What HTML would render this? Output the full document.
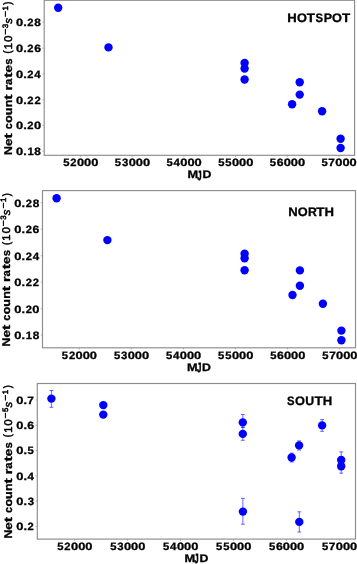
<!DOCTYPE html><html><head><meta charset="utf-8"><style>html,body{margin:0;padding:0;background:#fff;}svg{display:block;}text{font-family:"Liberation Sans", sans-serif;fill:#000;text-rendering:geometricPrecision;}.b{font-weight:bold;stroke:#000;stroke-width:0.30px;}.r{stroke:#000;stroke-width:0.52px;}</style></head><body>
<svg width="357" height="564" viewBox="0 0 357 564">
<defs><filter id="bl" x="0" y="0" width="357" height="564" filterUnits="userSpaceOnUse"><feGaussianBlur stdDeviation="0.50"/></filter></defs>
<rect width="357" height="564" fill="#fff"/>
<g filter="url(#bl)">
<rect width="357" height="564" fill="#fff"/>
<line x1="80.57" y1="155.30" x2="80.57" y2="157.10" stroke="#8c8c8c" stroke-width="0.6"/>
<text text-anchor="middle"><tspan class="b" x="66.33" y="166.44" font-size="10.61" textLength="6.26" lengthAdjust="spacingAndGlyphs">5</tspan><tspan class="b" x="73.43" y="166.44" font-size="10.61" textLength="6.24" lengthAdjust="spacingAndGlyphs">2</tspan><tspan class="b" x="80.58" y="166.44" font-size="10.61" textLength="7.16" lengthAdjust="spacingAndGlyphs">0</tspan><tspan class="b" x="87.71" y="166.44" font-size="10.61" textLength="7.16" lengthAdjust="spacingAndGlyphs">0</tspan><tspan class="b" x="94.85" y="166.44" font-size="10.61" textLength="7.16" lengthAdjust="spacingAndGlyphs">0</tspan></text>
<line x1="132.24" y1="155.30" x2="132.24" y2="157.10" stroke="#8c8c8c" stroke-width="0.6"/>
<text text-anchor="middle"><tspan class="b" x="117.99" y="166.44" font-size="10.61" textLength="6.26" lengthAdjust="spacingAndGlyphs">5</tspan><tspan class="b" x="125.11" y="166.44" font-size="10.61" textLength="6.27" lengthAdjust="spacingAndGlyphs">3</tspan><tspan class="b" x="132.25" y="166.44" font-size="10.61" textLength="7.16" lengthAdjust="spacingAndGlyphs">0</tspan><tspan class="b" x="139.38" y="166.44" font-size="10.61" textLength="7.16" lengthAdjust="spacingAndGlyphs">0</tspan><tspan class="b" x="146.51" y="166.44" font-size="10.61" textLength="7.16" lengthAdjust="spacingAndGlyphs">0</tspan></text>
<line x1="183.90" y1="155.30" x2="183.90" y2="157.10" stroke="#8c8c8c" stroke-width="0.6"/>
<text text-anchor="middle"><tspan class="b" x="169.66" y="166.44" font-size="10.61" textLength="6.26" lengthAdjust="spacingAndGlyphs">5</tspan><tspan class="b" x="176.71" y="166.44" font-size="10.61" textLength="6.41" lengthAdjust="spacingAndGlyphs">4</tspan><tspan class="b" x="183.91" y="166.44" font-size="10.61" textLength="7.16" lengthAdjust="spacingAndGlyphs">0</tspan><tspan class="b" x="191.04" y="166.44" font-size="10.61" textLength="7.16" lengthAdjust="spacingAndGlyphs">0</tspan><tspan class="b" x="198.17" y="166.44" font-size="10.61" textLength="7.16" lengthAdjust="spacingAndGlyphs">0</tspan></text>
<line x1="235.57" y1="155.30" x2="235.57" y2="157.10" stroke="#8c8c8c" stroke-width="0.6"/>
<text text-anchor="middle"><tspan class="b" x="221.32" y="166.44" font-size="10.61" textLength="6.26" lengthAdjust="spacingAndGlyphs">5</tspan><tspan class="b" x="228.45" y="166.44" font-size="10.61" textLength="6.26" lengthAdjust="spacingAndGlyphs">5</tspan><tspan class="b" x="235.57" y="166.44" font-size="10.61" textLength="7.16" lengthAdjust="spacingAndGlyphs">0</tspan><tspan class="b" x="242.71" y="166.44" font-size="10.61" textLength="7.16" lengthAdjust="spacingAndGlyphs">0</tspan><tspan class="b" x="249.84" y="166.44" font-size="10.61" textLength="7.16" lengthAdjust="spacingAndGlyphs">0</tspan></text>
<line x1="287.23" y1="155.30" x2="287.23" y2="157.10" stroke="#8c8c8c" stroke-width="0.6"/>
<text text-anchor="middle"><tspan class="b" x="272.99" y="166.44" font-size="10.61" textLength="6.26" lengthAdjust="spacingAndGlyphs">5</tspan><tspan class="b" x="280.14" y="166.44" font-size="10.61" textLength="6.81" lengthAdjust="spacingAndGlyphs">6</tspan><tspan class="b" x="287.24" y="166.44" font-size="10.61" textLength="7.16" lengthAdjust="spacingAndGlyphs">0</tspan><tspan class="b" x="294.37" y="166.44" font-size="10.61" textLength="7.16" lengthAdjust="spacingAndGlyphs">0</tspan><tspan class="b" x="301.50" y="166.44" font-size="10.61" textLength="7.16" lengthAdjust="spacingAndGlyphs">0</tspan></text>
<line x1="338.89" y1="155.30" x2="338.89" y2="157.10" stroke="#8c8c8c" stroke-width="0.6"/>
<text text-anchor="middle"><tspan class="b" x="324.65" y="166.44" font-size="10.61" textLength="6.26" lengthAdjust="spacingAndGlyphs">5</tspan><tspan class="b" x="331.70" y="166.44" font-size="10.61" textLength="6.64" lengthAdjust="spacingAndGlyphs">7</tspan><tspan class="b" x="338.90" y="166.44" font-size="10.61" textLength="7.16" lengthAdjust="spacingAndGlyphs">0</tspan><tspan class="b" x="346.04" y="166.44" font-size="10.61" textLength="7.16" lengthAdjust="spacingAndGlyphs">0</tspan><tspan class="b" x="353.17" y="166.44" font-size="10.61" textLength="7.16" lengthAdjust="spacingAndGlyphs">0</tspan></text>
<line x1="42.40" y1="22.30" x2="44.20" y2="22.30" stroke="#8c8c8c" stroke-width="0.6"/>
<text text-anchor="middle"><tspan class="b" x="19.50" y="26.22" font-size="10.61" textLength="7.16" lengthAdjust="spacingAndGlyphs">0</tspan><tspan class="b" x="25.02" y="26.22" font-size="10.61" textLength="3.53" lengthAdjust="spacingAndGlyphs">.</tspan><tspan class="b" x="30.51" y="26.22" font-size="10.61" textLength="6.24" lengthAdjust="spacingAndGlyphs">2</tspan><tspan class="b" x="37.64" y="26.22" font-size="10.61" textLength="6.58" lengthAdjust="spacingAndGlyphs">8</tspan></text>
<line x1="42.40" y1="48.10" x2="44.20" y2="48.10" stroke="#8c8c8c" stroke-width="0.6"/>
<text text-anchor="middle"><tspan class="b" x="19.50" y="52.02" font-size="10.61" textLength="7.16" lengthAdjust="spacingAndGlyphs">0</tspan><tspan class="b" x="25.02" y="52.02" font-size="10.61" textLength="3.53" lengthAdjust="spacingAndGlyphs">.</tspan><tspan class="b" x="30.51" y="52.02" font-size="10.61" textLength="6.24" lengthAdjust="spacingAndGlyphs">2</tspan><tspan class="b" x="37.69" y="52.02" font-size="10.61" textLength="6.81" lengthAdjust="spacingAndGlyphs">6</tspan></text>
<line x1="42.40" y1="73.90" x2="44.20" y2="73.90" stroke="#8c8c8c" stroke-width="0.6"/>
<text text-anchor="middle"><tspan class="b" x="19.50" y="77.82" font-size="10.61" textLength="7.16" lengthAdjust="spacingAndGlyphs">0</tspan><tspan class="b" x="25.02" y="77.82" font-size="10.61" textLength="3.53" lengthAdjust="spacingAndGlyphs">.</tspan><tspan class="b" x="30.51" y="77.82" font-size="10.61" textLength="6.24" lengthAdjust="spacingAndGlyphs">2</tspan><tspan class="b" x="37.59" y="77.82" font-size="10.61" textLength="6.41" lengthAdjust="spacingAndGlyphs">4</tspan></text>
<line x1="42.40" y1="99.70" x2="44.20" y2="99.70" stroke="#8c8c8c" stroke-width="0.6"/>
<text text-anchor="middle"><tspan class="b" x="19.50" y="103.62" font-size="10.61" textLength="7.16" lengthAdjust="spacingAndGlyphs">0</tspan><tspan class="b" x="25.02" y="103.62" font-size="10.61" textLength="3.53" lengthAdjust="spacingAndGlyphs">.</tspan><tspan class="b" x="30.51" y="103.62" font-size="10.61" textLength="6.24" lengthAdjust="spacingAndGlyphs">2</tspan><tspan class="b" x="37.64" y="103.62" font-size="10.61" textLength="6.24" lengthAdjust="spacingAndGlyphs">2</tspan></text>
<line x1="42.40" y1="125.40" x2="44.20" y2="125.40" stroke="#8c8c8c" stroke-width="0.6"/>
<text text-anchor="middle"><tspan class="b" x="19.50" y="129.32" font-size="10.61" textLength="7.16" lengthAdjust="spacingAndGlyphs">0</tspan><tspan class="b" x="25.02" y="129.32" font-size="10.61" textLength="3.53" lengthAdjust="spacingAndGlyphs">.</tspan><tspan class="b" x="30.51" y="129.32" font-size="10.61" textLength="6.24" lengthAdjust="spacingAndGlyphs">2</tspan><tspan class="b" x="37.66" y="129.32" font-size="10.61" textLength="7.16" lengthAdjust="spacingAndGlyphs">0</tspan></text>
<line x1="42.40" y1="151.10" x2="44.20" y2="151.10" stroke="#8c8c8c" stroke-width="0.6"/>
<text text-anchor="middle"><tspan class="b" x="19.50" y="155.02" font-size="10.61" textLength="7.16" lengthAdjust="spacingAndGlyphs">0</tspan><tspan class="b" x="25.02" y="155.02" font-size="10.61" textLength="3.53" lengthAdjust="spacingAndGlyphs">.</tspan><tspan class="b" x="30.55" y="155.02" font-size="10.61" textLength="6.27" lengthAdjust="spacingAndGlyphs">1</tspan><tspan class="b" x="37.64" y="155.02" font-size="10.61" textLength="6.58" lengthAdjust="spacingAndGlyphs">8</tspan></text>
<text text-anchor="middle"><tspan class="b" x="192.79" y="178.00" font-size="11.00" textLength="10.63" lengthAdjust="spacingAndGlyphs">M</tspan><tspan class="b" x="199.52" y="179.50" font-size="13.20" textLength="4.35" lengthAdjust="spacingAndGlyphs" style="stroke-width:0.60px">J</tspan><tspan class="b" x="206.98" y="178.00" font-size="11.00" textLength="8.89" lengthAdjust="spacingAndGlyphs">D</tspan></text>
<text text-anchor="middle"><tspan class="b" x="292.06" y="22.40" font-size="12.27" textLength="9.47" lengthAdjust="spacingAndGlyphs">H</tspan><tspan class="b" x="301.97" y="22.40" font-size="12.27" textLength="9.91" lengthAdjust="spacingAndGlyphs">O</tspan><tspan class="b" x="310.96" y="22.40" font-size="12.27" textLength="8.22" lengthAdjust="spacingAndGlyphs">T</tspan><tspan class="b" x="319.25" y="22.40" font-size="12.27" textLength="7.56" lengthAdjust="spacingAndGlyphs">S</tspan><tspan class="b" x="327.84" y="22.40" font-size="12.27" textLength="8.35" lengthAdjust="spacingAndGlyphs">P</tspan><tspan class="b" x="337.05" y="22.40" font-size="12.27" textLength="9.91" lengthAdjust="spacingAndGlyphs">O</tspan><tspan class="b" x="346.04" y="22.40" font-size="12.27" textLength="8.22" lengthAdjust="spacingAndGlyphs">T</tspan></text>
<g transform="translate(12.00,154.10) rotate(-90)"><text text-anchor="middle"><tspan class="b" x="3.60" y="0.00" font-size="11.19" textLength="8.83" lengthAdjust="spacingAndGlyphs">N</tspan><tspan class="b" x="11.86" y="0.00" font-size="11.19" textLength="7.44" lengthAdjust="spacingAndGlyphs">e</tspan><tspan class="b" x="18.23" y="0.00" font-size="11.19" textLength="5.25" lengthAdjust="spacingAndGlyphs">t</tspan><tspan x="22.83" y="0.00"> </tspan><tspan class="b" x="27.82" y="0.00" font-size="11.19" textLength="6.06" lengthAdjust="spacingAndGlyphs">c</tspan><tspan class="b" x="35.04" y="0.00" font-size="11.19" textLength="7.58" lengthAdjust="spacingAndGlyphs">o</tspan><tspan class="b" x="42.73" y="0.00" font-size="11.19" textLength="7.65" lengthAdjust="spacingAndGlyphs">u</tspan><tspan class="b" x="50.58" y="0.00" font-size="11.19" textLength="7.65" lengthAdjust="spacingAndGlyphs">n</tspan><tspan class="b" x="57.06" y="0.00" font-size="11.19" textLength="5.25" lengthAdjust="spacingAndGlyphs">t</tspan><tspan x="61.66" y="0.00"> </tspan><tspan class="b" x="66.36" y="0.00" font-size="11.19" textLength="5.64" lengthAdjust="spacingAndGlyphs">r</tspan><tspan class="b" x="72.31" y="0.00" font-size="11.19" textLength="6.35" lengthAdjust="spacingAndGlyphs">a</tspan><tspan class="b" x="79.00" y="0.00" font-size="11.19" textLength="5.25" lengthAdjust="spacingAndGlyphs">t</tspan><tspan class="b" x="85.35" y="0.00" font-size="11.19" textLength="7.44" lengthAdjust="spacingAndGlyphs">e</tspan><tspan class="b" x="92.47" y="0.00" font-size="11.19" textLength="6.32" lengthAdjust="spacingAndGlyphs">s</tspan><tspan x="97.60" y="0"> </tspan><tspan class="r" x="102.17" y="-0.74" font-size="10.70" textLength="3.15" lengthAdjust="spacingAndGlyphs">(</tspan><tspan class="r" x="108.11" y="-0.00" font-size="11.19" textLength="6.27" lengthAdjust="spacingAndGlyphs">1</tspan><tspan class="r" x="115.32" y="-0.00" font-size="11.19" textLength="6.56" lengthAdjust="spacingAndGlyphs">0</tspan><tspan class="r" x="122.30" y="-4.21" font-size="7.83" textLength="5.89" lengthAdjust="spacingAndGlyphs">−</tspan><tspan class="r" x="128.12" y="-4.21" font-size="7.83" textLength="4.41" lengthAdjust="spacingAndGlyphs">3</tspan><tspan class="r" x="133.30" y="-0.00" font-size="11.19" textLength="5.73" lengthAdjust="spacingAndGlyphs" font-style="italic">s</tspan><tspan class="r" x="139.99" y="-4.21" font-size="7.83" textLength="5.89" lengthAdjust="spacingAndGlyphs">−</tspan><tspan class="r" x="145.76" y="-4.21" font-size="7.83" textLength="4.39" lengthAdjust="spacingAndGlyphs">1</tspan><tspan class="r" x="151.03" y="-0.74" font-size="10.70" textLength="3.15" lengthAdjust="spacingAndGlyphs">)</tspan></text></g>
<circle cx="58.20" cy="7.80" r="4.20" fill="#0000ff"/>
<circle cx="108.50" cy="47.40" r="4.20" fill="#0000ff"/>
<circle cx="244.60" cy="62.90" r="4.20" fill="#0000ff"/>
<circle cx="244.60" cy="68.50" r="4.20" fill="#0000ff"/>
<circle cx="244.60" cy="79.50" r="4.20" fill="#0000ff"/>
<circle cx="292.10" cy="104.20" r="4.20" fill="#0000ff"/>
<circle cx="299.70" cy="82.30" r="4.20" fill="#0000ff"/>
<circle cx="299.70" cy="94.60" r="4.20" fill="#0000ff"/>
<circle cx="322.10" cy="111.20" r="4.20" fill="#0000ff"/>
<circle cx="340.60" cy="138.70" r="4.20" fill="#0000ff"/>
<circle cx="340.60" cy="148.00" r="4.20" fill="#0000ff"/>
<rect x="44.20" y="0.30" width="310.40" height="155.00" fill="none" stroke="#8c8c8c" stroke-width="1.15"/>
<line x1="79.18" y1="347.80" x2="79.18" y2="349.60" stroke="#8c8c8c" stroke-width="0.6"/>
<text text-anchor="middle"><tspan class="b" x="64.93" y="358.84" font-size="10.61" textLength="6.26" lengthAdjust="spacingAndGlyphs">5</tspan><tspan class="b" x="72.03" y="358.84" font-size="10.61" textLength="6.24" lengthAdjust="spacingAndGlyphs">2</tspan><tspan class="b" x="79.19" y="358.84" font-size="10.61" textLength="7.16" lengthAdjust="spacingAndGlyphs">0</tspan><tspan class="b" x="86.32" y="358.84" font-size="10.61" textLength="7.16" lengthAdjust="spacingAndGlyphs">0</tspan><tspan class="b" x="93.45" y="358.84" font-size="10.61" textLength="7.16" lengthAdjust="spacingAndGlyphs">0</tspan></text>
<line x1="131.27" y1="347.80" x2="131.27" y2="349.60" stroke="#8c8c8c" stroke-width="0.6"/>
<text text-anchor="middle"><tspan class="b" x="117.03" y="358.84" font-size="10.61" textLength="6.26" lengthAdjust="spacingAndGlyphs">5</tspan><tspan class="b" x="124.15" y="358.84" font-size="10.61" textLength="6.27" lengthAdjust="spacingAndGlyphs">3</tspan><tspan class="b" x="131.28" y="358.84" font-size="10.61" textLength="7.16" lengthAdjust="spacingAndGlyphs">0</tspan><tspan class="b" x="138.42" y="358.84" font-size="10.61" textLength="7.16" lengthAdjust="spacingAndGlyphs">0</tspan><tspan class="b" x="145.55" y="358.84" font-size="10.61" textLength="7.16" lengthAdjust="spacingAndGlyphs">0</tspan></text>
<line x1="183.37" y1="347.80" x2="183.37" y2="349.60" stroke="#8c8c8c" stroke-width="0.6"/>
<text text-anchor="middle"><tspan class="b" x="169.13" y="358.84" font-size="10.61" textLength="6.26" lengthAdjust="spacingAndGlyphs">5</tspan><tspan class="b" x="176.18" y="358.84" font-size="10.61" textLength="6.41" lengthAdjust="spacingAndGlyphs">4</tspan><tspan class="b" x="183.38" y="358.84" font-size="10.61" textLength="7.16" lengthAdjust="spacingAndGlyphs">0</tspan><tspan class="b" x="190.51" y="358.84" font-size="10.61" textLength="7.16" lengthAdjust="spacingAndGlyphs">0</tspan><tspan class="b" x="197.64" y="358.84" font-size="10.61" textLength="7.16" lengthAdjust="spacingAndGlyphs">0</tspan></text>
<line x1="235.47" y1="347.80" x2="235.47" y2="349.60" stroke="#8c8c8c" stroke-width="0.6"/>
<text text-anchor="middle"><tspan class="b" x="221.22" y="358.84" font-size="10.61" textLength="6.26" lengthAdjust="spacingAndGlyphs">5</tspan><tspan class="b" x="228.36" y="358.84" font-size="10.61" textLength="6.26" lengthAdjust="spacingAndGlyphs">5</tspan><tspan class="b" x="235.48" y="358.84" font-size="10.61" textLength="7.16" lengthAdjust="spacingAndGlyphs">0</tspan><tspan class="b" x="242.61" y="358.84" font-size="10.61" textLength="7.16" lengthAdjust="spacingAndGlyphs">0</tspan><tspan class="b" x="249.74" y="358.84" font-size="10.61" textLength="7.16" lengthAdjust="spacingAndGlyphs">0</tspan></text>
<line x1="287.57" y1="347.80" x2="287.57" y2="349.60" stroke="#8c8c8c" stroke-width="0.6"/>
<text text-anchor="middle"><tspan class="b" x="273.32" y="358.84" font-size="10.61" textLength="6.26" lengthAdjust="spacingAndGlyphs">5</tspan><tspan class="b" x="280.47" y="358.84" font-size="10.61" textLength="6.81" lengthAdjust="spacingAndGlyphs">6</tspan><tspan class="b" x="287.57" y="358.84" font-size="10.61" textLength="7.16" lengthAdjust="spacingAndGlyphs">0</tspan><tspan class="b" x="294.71" y="358.84" font-size="10.61" textLength="7.16" lengthAdjust="spacingAndGlyphs">0</tspan><tspan class="b" x="301.84" y="358.84" font-size="10.61" textLength="7.16" lengthAdjust="spacingAndGlyphs">0</tspan></text>
<line x1="339.66" y1="347.80" x2="339.66" y2="349.60" stroke="#8c8c8c" stroke-width="0.6"/>
<text text-anchor="middle"><tspan class="b" x="325.42" y="358.84" font-size="10.61" textLength="6.26" lengthAdjust="spacingAndGlyphs">5</tspan><tspan class="b" x="332.47" y="358.84" font-size="10.61" textLength="6.64" lengthAdjust="spacingAndGlyphs">7</tspan><tspan class="b" x="339.67" y="358.84" font-size="10.61" textLength="7.16" lengthAdjust="spacingAndGlyphs">0</tspan><tspan class="b" x="346.80" y="358.84" font-size="10.61" textLength="7.16" lengthAdjust="spacingAndGlyphs">0</tspan><tspan class="b" x="353.94" y="358.84" font-size="10.61" textLength="7.16" lengthAdjust="spacingAndGlyphs">0</tspan></text>
<line x1="40.70" y1="202.70" x2="42.50" y2="202.70" stroke="#8c8c8c" stroke-width="0.6"/>
<text text-anchor="middle"><tspan class="b" x="17.80" y="206.62" font-size="10.61" textLength="7.16" lengthAdjust="spacingAndGlyphs">0</tspan><tspan class="b" x="23.32" y="206.62" font-size="10.61" textLength="3.53" lengthAdjust="spacingAndGlyphs">.</tspan><tspan class="b" x="28.81" y="206.62" font-size="10.61" textLength="6.24" lengthAdjust="spacingAndGlyphs">2</tspan><tspan class="b" x="35.94" y="206.62" font-size="10.61" textLength="6.58" lengthAdjust="spacingAndGlyphs">8</tspan></text>
<line x1="40.70" y1="229.20" x2="42.50" y2="229.20" stroke="#8c8c8c" stroke-width="0.6"/>
<text text-anchor="middle"><tspan class="b" x="17.80" y="233.12" font-size="10.61" textLength="7.16" lengthAdjust="spacingAndGlyphs">0</tspan><tspan class="b" x="23.32" y="233.12" font-size="10.61" textLength="3.53" lengthAdjust="spacingAndGlyphs">.</tspan><tspan class="b" x="28.81" y="233.12" font-size="10.61" textLength="6.24" lengthAdjust="spacingAndGlyphs">2</tspan><tspan class="b" x="35.99" y="233.12" font-size="10.61" textLength="6.81" lengthAdjust="spacingAndGlyphs">6</tspan></text>
<line x1="40.70" y1="255.70" x2="42.50" y2="255.70" stroke="#8c8c8c" stroke-width="0.6"/>
<text text-anchor="middle"><tspan class="b" x="17.80" y="259.62" font-size="10.61" textLength="7.16" lengthAdjust="spacingAndGlyphs">0</tspan><tspan class="b" x="23.32" y="259.62" font-size="10.61" textLength="3.53" lengthAdjust="spacingAndGlyphs">.</tspan><tspan class="b" x="28.81" y="259.62" font-size="10.61" textLength="6.24" lengthAdjust="spacingAndGlyphs">2</tspan><tspan class="b" x="35.89" y="259.62" font-size="10.61" textLength="6.41" lengthAdjust="spacingAndGlyphs">4</tspan></text>
<line x1="40.70" y1="282.10" x2="42.50" y2="282.10" stroke="#8c8c8c" stroke-width="0.6"/>
<text text-anchor="middle"><tspan class="b" x="17.80" y="286.02" font-size="10.61" textLength="7.16" lengthAdjust="spacingAndGlyphs">0</tspan><tspan class="b" x="23.32" y="286.02" font-size="10.61" textLength="3.53" lengthAdjust="spacingAndGlyphs">.</tspan><tspan class="b" x="28.81" y="286.02" font-size="10.61" textLength="6.24" lengthAdjust="spacingAndGlyphs">2</tspan><tspan class="b" x="35.94" y="286.02" font-size="10.61" textLength="6.24" lengthAdjust="spacingAndGlyphs">2</tspan></text>
<line x1="40.70" y1="308.60" x2="42.50" y2="308.60" stroke="#8c8c8c" stroke-width="0.6"/>
<text text-anchor="middle"><tspan class="b" x="17.80" y="312.52" font-size="10.61" textLength="7.16" lengthAdjust="spacingAndGlyphs">0</tspan><tspan class="b" x="23.32" y="312.52" font-size="10.61" textLength="3.53" lengthAdjust="spacingAndGlyphs">.</tspan><tspan class="b" x="28.81" y="312.52" font-size="10.61" textLength="6.24" lengthAdjust="spacingAndGlyphs">2</tspan><tspan class="b" x="35.96" y="312.52" font-size="10.61" textLength="7.16" lengthAdjust="spacingAndGlyphs">0</tspan></text>
<line x1="40.70" y1="335.10" x2="42.50" y2="335.10" stroke="#8c8c8c" stroke-width="0.6"/>
<text text-anchor="middle"><tspan class="b" x="17.80" y="339.02" font-size="10.61" textLength="7.16" lengthAdjust="spacingAndGlyphs">0</tspan><tspan class="b" x="23.32" y="339.02" font-size="10.61" textLength="3.53" lengthAdjust="spacingAndGlyphs">.</tspan><tspan class="b" x="28.85" y="339.02" font-size="10.61" textLength="6.27" lengthAdjust="spacingAndGlyphs">1</tspan><tspan class="b" x="35.94" y="339.02" font-size="10.61" textLength="6.58" lengthAdjust="spacingAndGlyphs">8</tspan></text>
<text text-anchor="middle"><tspan class="b" x="192.39" y="370.80" font-size="11.00" textLength="10.63" lengthAdjust="spacingAndGlyphs">M</tspan><tspan class="b" x="199.12" y="372.30" font-size="13.20" textLength="4.35" lengthAdjust="spacingAndGlyphs" style="stroke-width:0.60px">J</tspan><tspan class="b" x="206.58" y="370.80" font-size="11.00" textLength="8.89" lengthAdjust="spacingAndGlyphs">D</tspan></text>
<text text-anchor="middle"><tspan class="b" x="292.86" y="215.80" font-size="12.27" textLength="9.47" lengthAdjust="spacingAndGlyphs">N</tspan><tspan class="b" x="302.77" y="215.80" font-size="12.27" textLength="9.91" lengthAdjust="spacingAndGlyphs">O</tspan><tspan class="b" x="312.42" y="215.80" font-size="12.27" textLength="8.84" lengthAdjust="spacingAndGlyphs">R</tspan><tspan class="b" x="320.31" y="215.80" font-size="12.27" textLength="8.22" lengthAdjust="spacingAndGlyphs">T</tspan><tspan class="b" x="329.24" y="215.80" font-size="12.27" textLength="9.47" lengthAdjust="spacingAndGlyphs">H</tspan></text>
<g transform="translate(10.30,345.60) rotate(-90)"><text text-anchor="middle"><tspan class="b" x="3.60" y="0.00" font-size="11.19" textLength="8.83" lengthAdjust="spacingAndGlyphs">N</tspan><tspan class="b" x="11.86" y="0.00" font-size="11.19" textLength="7.44" lengthAdjust="spacingAndGlyphs">e</tspan><tspan class="b" x="18.23" y="0.00" font-size="11.19" textLength="5.25" lengthAdjust="spacingAndGlyphs">t</tspan><tspan x="22.83" y="0.00"> </tspan><tspan class="b" x="27.82" y="0.00" font-size="11.19" textLength="6.06" lengthAdjust="spacingAndGlyphs">c</tspan><tspan class="b" x="35.04" y="0.00" font-size="11.19" textLength="7.58" lengthAdjust="spacingAndGlyphs">o</tspan><tspan class="b" x="42.73" y="0.00" font-size="11.19" textLength="7.65" lengthAdjust="spacingAndGlyphs">u</tspan><tspan class="b" x="50.58" y="0.00" font-size="11.19" textLength="7.65" lengthAdjust="spacingAndGlyphs">n</tspan><tspan class="b" x="57.06" y="0.00" font-size="11.19" textLength="5.25" lengthAdjust="spacingAndGlyphs">t</tspan><tspan x="61.66" y="0.00"> </tspan><tspan class="b" x="66.36" y="0.00" font-size="11.19" textLength="5.64" lengthAdjust="spacingAndGlyphs">r</tspan><tspan class="b" x="72.31" y="0.00" font-size="11.19" textLength="6.35" lengthAdjust="spacingAndGlyphs">a</tspan><tspan class="b" x="79.00" y="0.00" font-size="11.19" textLength="5.25" lengthAdjust="spacingAndGlyphs">t</tspan><tspan class="b" x="85.35" y="0.00" font-size="11.19" textLength="7.44" lengthAdjust="spacingAndGlyphs">e</tspan><tspan class="b" x="92.47" y="0.00" font-size="11.19" textLength="6.32" lengthAdjust="spacingAndGlyphs">s</tspan><tspan x="97.60" y="0"> </tspan><tspan class="r" x="102.17" y="-0.74" font-size="10.70" textLength="3.15" lengthAdjust="spacingAndGlyphs">(</tspan><tspan class="r" x="108.11" y="-0.00" font-size="11.19" textLength="6.27" lengthAdjust="spacingAndGlyphs">1</tspan><tspan class="r" x="115.32" y="-0.00" font-size="11.19" textLength="6.56" lengthAdjust="spacingAndGlyphs">0</tspan><tspan class="r" x="122.30" y="-4.21" font-size="7.83" textLength="5.89" lengthAdjust="spacingAndGlyphs">−</tspan><tspan class="r" x="128.12" y="-4.21" font-size="7.83" textLength="4.41" lengthAdjust="spacingAndGlyphs">3</tspan><tspan class="r" x="133.30" y="-0.00" font-size="11.19" textLength="5.73" lengthAdjust="spacingAndGlyphs" font-style="italic">s</tspan><tspan class="r" x="139.99" y="-4.21" font-size="7.83" textLength="5.89" lengthAdjust="spacingAndGlyphs">−</tspan><tspan class="r" x="145.76" y="-4.21" font-size="7.83" textLength="4.39" lengthAdjust="spacingAndGlyphs">1</tspan><tspan class="r" x="151.03" y="-0.74" font-size="10.70" textLength="3.15" lengthAdjust="spacingAndGlyphs">)</tspan></text></g>
<circle cx="56.60" cy="198.20" r="4.20" fill="#0000ff"/>
<circle cx="107.40" cy="240.10" r="4.20" fill="#0000ff"/>
<circle cx="244.60" cy="253.70" r="4.20" fill="#0000ff"/>
<circle cx="244.60" cy="258.30" r="4.20" fill="#0000ff"/>
<circle cx="244.60" cy="270.30" r="4.20" fill="#0000ff"/>
<circle cx="292.50" cy="295.00" r="4.20" fill="#0000ff"/>
<circle cx="299.90" cy="270.40" r="4.20" fill="#0000ff"/>
<circle cx="299.90" cy="285.80" r="4.20" fill="#0000ff"/>
<circle cx="322.90" cy="303.70" r="4.20" fill="#0000ff"/>
<circle cx="341.40" cy="330.60" r="4.20" fill="#0000ff"/>
<circle cx="341.40" cy="340.20" r="4.20" fill="#0000ff"/>
<rect x="42.50" y="190.60" width="313.00" height="157.20" fill="none" stroke="#8c8c8c" stroke-width="1.15"/>
<line x1="74.59" y1="539.10" x2="74.59" y2="540.90" stroke="#8c8c8c" stroke-width="0.6"/>
<text text-anchor="middle"><tspan class="b" x="60.34" y="550.04" font-size="10.61" textLength="6.26" lengthAdjust="spacingAndGlyphs">5</tspan><tspan class="b" x="67.44" y="550.04" font-size="10.61" textLength="6.24" lengthAdjust="spacingAndGlyphs">2</tspan><tspan class="b" x="74.60" y="550.04" font-size="10.61" textLength="7.16" lengthAdjust="spacingAndGlyphs">0</tspan><tspan class="b" x="81.73" y="550.04" font-size="10.61" textLength="7.16" lengthAdjust="spacingAndGlyphs">0</tspan><tspan class="b" x="88.86" y="550.04" font-size="10.61" textLength="7.16" lengthAdjust="spacingAndGlyphs">0</tspan></text>
<line x1="127.55" y1="539.10" x2="127.55" y2="540.90" stroke="#8c8c8c" stroke-width="0.6"/>
<text text-anchor="middle"><tspan class="b" x="113.31" y="550.04" font-size="10.61" textLength="6.26" lengthAdjust="spacingAndGlyphs">5</tspan><tspan class="b" x="120.43" y="550.04" font-size="10.61" textLength="6.27" lengthAdjust="spacingAndGlyphs">3</tspan><tspan class="b" x="127.56" y="550.04" font-size="10.61" textLength="7.16" lengthAdjust="spacingAndGlyphs">0</tspan><tspan class="b" x="134.69" y="550.04" font-size="10.61" textLength="7.16" lengthAdjust="spacingAndGlyphs">0</tspan><tspan class="b" x="141.82" y="550.04" font-size="10.61" textLength="7.16" lengthAdjust="spacingAndGlyphs">0</tspan></text>
<line x1="180.51" y1="539.10" x2="180.51" y2="540.90" stroke="#8c8c8c" stroke-width="0.6"/>
<text text-anchor="middle"><tspan class="b" x="166.27" y="550.04" font-size="10.61" textLength="6.26" lengthAdjust="spacingAndGlyphs">5</tspan><tspan class="b" x="173.32" y="550.04" font-size="10.61" textLength="6.41" lengthAdjust="spacingAndGlyphs">4</tspan><tspan class="b" x="180.52" y="550.04" font-size="10.61" textLength="7.16" lengthAdjust="spacingAndGlyphs">0</tspan><tspan class="b" x="187.65" y="550.04" font-size="10.61" textLength="7.16" lengthAdjust="spacingAndGlyphs">0</tspan><tspan class="b" x="194.78" y="550.04" font-size="10.61" textLength="7.16" lengthAdjust="spacingAndGlyphs">0</tspan></text>
<line x1="233.47" y1="539.10" x2="233.47" y2="540.90" stroke="#8c8c8c" stroke-width="0.6"/>
<text text-anchor="middle"><tspan class="b" x="219.23" y="550.04" font-size="10.61" textLength="6.26" lengthAdjust="spacingAndGlyphs">5</tspan><tspan class="b" x="226.36" y="550.04" font-size="10.61" textLength="6.26" lengthAdjust="spacingAndGlyphs">5</tspan><tspan class="b" x="233.48" y="550.04" font-size="10.61" textLength="7.16" lengthAdjust="spacingAndGlyphs">0</tspan><tspan class="b" x="240.62" y="550.04" font-size="10.61" textLength="7.16" lengthAdjust="spacingAndGlyphs">0</tspan><tspan class="b" x="247.75" y="550.04" font-size="10.61" textLength="7.16" lengthAdjust="spacingAndGlyphs">0</tspan></text>
<line x1="286.44" y1="539.10" x2="286.44" y2="540.90" stroke="#8c8c8c" stroke-width="0.6"/>
<text text-anchor="middle"><tspan class="b" x="272.19" y="550.04" font-size="10.61" textLength="6.26" lengthAdjust="spacingAndGlyphs">5</tspan><tspan class="b" x="279.34" y="550.04" font-size="10.61" textLength="6.81" lengthAdjust="spacingAndGlyphs">6</tspan><tspan class="b" x="286.45" y="550.04" font-size="10.61" textLength="7.16" lengthAdjust="spacingAndGlyphs">0</tspan><tspan class="b" x="293.58" y="550.04" font-size="10.61" textLength="7.16" lengthAdjust="spacingAndGlyphs">0</tspan><tspan class="b" x="300.71" y="550.04" font-size="10.61" textLength="7.16" lengthAdjust="spacingAndGlyphs">0</tspan></text>
<line x1="339.40" y1="539.10" x2="339.40" y2="540.90" stroke="#8c8c8c" stroke-width="0.6"/>
<text text-anchor="middle"><tspan class="b" x="325.16" y="550.04" font-size="10.61" textLength="6.26" lengthAdjust="spacingAndGlyphs">5</tspan><tspan class="b" x="332.21" y="550.04" font-size="10.61" textLength="6.64" lengthAdjust="spacingAndGlyphs">7</tspan><tspan class="b" x="339.41" y="550.04" font-size="10.61" textLength="7.16" lengthAdjust="spacingAndGlyphs">0</tspan><tspan class="b" x="346.54" y="550.04" font-size="10.61" textLength="7.16" lengthAdjust="spacingAndGlyphs">0</tspan><tspan class="b" x="353.67" y="550.04" font-size="10.61" textLength="7.16" lengthAdjust="spacingAndGlyphs">0</tspan></text>
<line x1="35.50" y1="399.90" x2="37.30" y2="399.90" stroke="#8c8c8c" stroke-width="0.6"/>
<text text-anchor="middle"><tspan class="b" x="19.74" y="403.82" font-size="10.61" textLength="7.16" lengthAdjust="spacingAndGlyphs">0</tspan><tspan class="b" x="25.25" y="403.82" font-size="10.61" textLength="3.53" lengthAdjust="spacingAndGlyphs">.</tspan><tspan class="b" x="30.69" y="403.82" font-size="10.61" textLength="6.64" lengthAdjust="spacingAndGlyphs">7</tspan></text>
<line x1="35.50" y1="425.20" x2="37.30" y2="425.20" stroke="#8c8c8c" stroke-width="0.6"/>
<text text-anchor="middle"><tspan class="b" x="19.74" y="429.12" font-size="10.61" textLength="7.16" lengthAdjust="spacingAndGlyphs">0</tspan><tspan class="b" x="25.25" y="429.12" font-size="10.61" textLength="3.53" lengthAdjust="spacingAndGlyphs">.</tspan><tspan class="b" x="30.79" y="429.12" font-size="10.61" textLength="6.81" lengthAdjust="spacingAndGlyphs">6</tspan></text>
<line x1="35.50" y1="450.50" x2="37.30" y2="450.50" stroke="#8c8c8c" stroke-width="0.6"/>
<text text-anchor="middle"><tspan class="b" x="19.74" y="454.42" font-size="10.61" textLength="7.16" lengthAdjust="spacingAndGlyphs">0</tspan><tspan class="b" x="25.25" y="454.42" font-size="10.61" textLength="3.53" lengthAdjust="spacingAndGlyphs">.</tspan><tspan class="b" x="30.77" y="454.42" font-size="10.61" textLength="6.26" lengthAdjust="spacingAndGlyphs">5</tspan></text>
<line x1="35.50" y1="475.80" x2="37.30" y2="475.80" stroke="#8c8c8c" stroke-width="0.6"/>
<text text-anchor="middle"><tspan class="b" x="19.74" y="479.72" font-size="10.61" textLength="7.16" lengthAdjust="spacingAndGlyphs">0</tspan><tspan class="b" x="25.25" y="479.72" font-size="10.61" textLength="3.53" lengthAdjust="spacingAndGlyphs">.</tspan><tspan class="b" x="30.69" y="479.72" font-size="10.61" textLength="6.41" lengthAdjust="spacingAndGlyphs">4</tspan></text>
<line x1="35.50" y1="501.00" x2="37.30" y2="501.00" stroke="#8c8c8c" stroke-width="0.6"/>
<text text-anchor="middle"><tspan class="b" x="19.74" y="504.92" font-size="10.61" textLength="7.16" lengthAdjust="spacingAndGlyphs">0</tspan><tspan class="b" x="25.25" y="504.92" font-size="10.61" textLength="3.53" lengthAdjust="spacingAndGlyphs">.</tspan><tspan class="b" x="30.76" y="504.92" font-size="10.61" textLength="6.27" lengthAdjust="spacingAndGlyphs">3</tspan></text>
<line x1="35.50" y1="526.30" x2="37.30" y2="526.30" stroke="#8c8c8c" stroke-width="0.6"/>
<text text-anchor="middle"><tspan class="b" x="19.74" y="530.22" font-size="10.61" textLength="7.16" lengthAdjust="spacingAndGlyphs">0</tspan><tspan class="b" x="25.25" y="530.22" font-size="10.61" textLength="3.53" lengthAdjust="spacingAndGlyphs">.</tspan><tspan class="b" x="30.74" y="530.22" font-size="10.61" textLength="6.24" lengthAdjust="spacingAndGlyphs">2</tspan></text>
<text text-anchor="middle"><tspan class="b" x="189.79" y="561.90" font-size="11.00" textLength="10.63" lengthAdjust="spacingAndGlyphs">M</tspan><tspan class="b" x="196.52" y="563.40" font-size="13.20" textLength="4.35" lengthAdjust="spacingAndGlyphs" style="stroke-width:0.60px">J</tspan><tspan class="b" x="203.98" y="561.90" font-size="11.00" textLength="8.89" lengthAdjust="spacingAndGlyphs">D</tspan></text>
<text text-anchor="middle"><tspan class="b" x="290.82" y="405.40" font-size="12.27" textLength="7.56" lengthAdjust="spacingAndGlyphs">S</tspan><tspan class="b" x="300.00" y="405.40" font-size="12.27" textLength="9.91" lengthAdjust="spacingAndGlyphs">O</tspan><tspan class="b" x="309.76" y="405.40" font-size="12.27" textLength="8.91" lengthAdjust="spacingAndGlyphs">U</tspan><tspan class="b" x="318.53" y="405.40" font-size="12.27" textLength="8.22" lengthAdjust="spacingAndGlyphs">T</tspan><tspan class="b" x="327.47" y="405.40" font-size="12.27" textLength="9.47" lengthAdjust="spacingAndGlyphs">H</tspan></text>
<g transform="translate(12.00,537.80) rotate(-90)"><text text-anchor="middle"><tspan class="b" x="3.60" y="0.00" font-size="11.19" textLength="8.83" lengthAdjust="spacingAndGlyphs">N</tspan><tspan class="b" x="11.86" y="0.00" font-size="11.19" textLength="7.44" lengthAdjust="spacingAndGlyphs">e</tspan><tspan class="b" x="18.23" y="0.00" font-size="11.19" textLength="5.25" lengthAdjust="spacingAndGlyphs">t</tspan><tspan x="22.83" y="0.00"> </tspan><tspan class="b" x="27.82" y="0.00" font-size="11.19" textLength="6.06" lengthAdjust="spacingAndGlyphs">c</tspan><tspan class="b" x="35.04" y="0.00" font-size="11.19" textLength="7.58" lengthAdjust="spacingAndGlyphs">o</tspan><tspan class="b" x="42.73" y="0.00" font-size="11.19" textLength="7.65" lengthAdjust="spacingAndGlyphs">u</tspan><tspan class="b" x="50.58" y="0.00" font-size="11.19" textLength="7.65" lengthAdjust="spacingAndGlyphs">n</tspan><tspan class="b" x="57.06" y="0.00" font-size="11.19" textLength="5.25" lengthAdjust="spacingAndGlyphs">t</tspan><tspan x="61.66" y="0.00"> </tspan><tspan class="b" x="66.36" y="0.00" font-size="11.19" textLength="5.64" lengthAdjust="spacingAndGlyphs">r</tspan><tspan class="b" x="72.31" y="0.00" font-size="11.19" textLength="6.35" lengthAdjust="spacingAndGlyphs">a</tspan><tspan class="b" x="79.00" y="0.00" font-size="11.19" textLength="5.25" lengthAdjust="spacingAndGlyphs">t</tspan><tspan class="b" x="85.35" y="0.00" font-size="11.19" textLength="7.44" lengthAdjust="spacingAndGlyphs">e</tspan><tspan class="b" x="92.47" y="0.00" font-size="11.19" textLength="6.32" lengthAdjust="spacingAndGlyphs">s</tspan><tspan x="97.60" y="0"> </tspan><tspan class="r" x="102.17" y="-0.74" font-size="10.70" textLength="3.15" lengthAdjust="spacingAndGlyphs">(</tspan><tspan class="r" x="108.11" y="-0.00" font-size="11.19" textLength="6.27" lengthAdjust="spacingAndGlyphs">1</tspan><tspan class="r" x="115.32" y="-0.00" font-size="11.19" textLength="6.56" lengthAdjust="spacingAndGlyphs">0</tspan><tspan class="r" x="122.30" y="-4.21" font-size="7.83" textLength="5.89" lengthAdjust="spacingAndGlyphs">−</tspan><tspan class="r" x="128.08" y="-4.21" font-size="7.83" textLength="4.33" lengthAdjust="spacingAndGlyphs">5</tspan><tspan class="r" x="133.30" y="-0.00" font-size="11.19" textLength="5.73" lengthAdjust="spacingAndGlyphs" font-style="italic">s</tspan><tspan class="r" x="139.99" y="-4.21" font-size="7.83" textLength="5.89" lengthAdjust="spacingAndGlyphs">−</tspan><tspan class="r" x="145.76" y="-4.21" font-size="7.83" textLength="4.39" lengthAdjust="spacingAndGlyphs">1</tspan><tspan class="r" x="151.03" y="-0.74" font-size="10.70" textLength="3.15" lengthAdjust="spacingAndGlyphs">)</tspan></text></g>
<line x1="51.40" y1="390.50" x2="51.40" y2="407.30" stroke="#0000ff" stroke-width="0.8" stroke-opacity="0.75"/>
<line x1="49.50" y1="390.50" x2="53.30" y2="390.50" stroke="#0000ff" stroke-width="0.8" stroke-opacity="0.75"/>
<line x1="49.50" y1="407.30" x2="53.30" y2="407.30" stroke="#0000ff" stroke-width="0.8" stroke-opacity="0.75"/>
<line x1="103.30" y1="402.00" x2="103.30" y2="408.00" stroke="#0000ff" stroke-width="0.8" stroke-opacity="0.75"/>
<line x1="101.40" y1="402.00" x2="105.20" y2="402.00" stroke="#0000ff" stroke-width="0.8" stroke-opacity="0.75"/>
<line x1="101.40" y1="408.00" x2="105.20" y2="408.00" stroke="#0000ff" stroke-width="0.8" stroke-opacity="0.75"/>
<line x1="103.30" y1="411.50" x2="103.30" y2="417.50" stroke="#0000ff" stroke-width="0.8" stroke-opacity="0.75"/>
<line x1="101.40" y1="411.50" x2="105.20" y2="411.50" stroke="#0000ff" stroke-width="0.8" stroke-opacity="0.75"/>
<line x1="101.40" y1="417.50" x2="105.20" y2="417.50" stroke="#0000ff" stroke-width="0.8" stroke-opacity="0.75"/>
<line x1="242.80" y1="414.50" x2="242.80" y2="427.20" stroke="#0000ff" stroke-width="0.8" stroke-opacity="0.75"/>
<line x1="240.90" y1="414.50" x2="244.70" y2="414.50" stroke="#0000ff" stroke-width="0.8" stroke-opacity="0.75"/>
<line x1="240.90" y1="427.20" x2="244.70" y2="427.20" stroke="#0000ff" stroke-width="0.8" stroke-opacity="0.75"/>
<line x1="242.80" y1="427.40" x2="242.80" y2="440.30" stroke="#0000ff" stroke-width="0.8" stroke-opacity="0.75"/>
<line x1="240.90" y1="427.40" x2="244.70" y2="427.40" stroke="#0000ff" stroke-width="0.8" stroke-opacity="0.75"/>
<line x1="240.90" y1="440.30" x2="244.70" y2="440.30" stroke="#0000ff" stroke-width="0.8" stroke-opacity="0.75"/>
<line x1="242.90" y1="498.40" x2="242.90" y2="524.20" stroke="#0000ff" stroke-width="0.8" stroke-opacity="0.75"/>
<line x1="241.00" y1="498.40" x2="244.80" y2="498.40" stroke="#0000ff" stroke-width="0.8" stroke-opacity="0.75"/>
<line x1="241.00" y1="524.20" x2="244.80" y2="524.20" stroke="#0000ff" stroke-width="0.8" stroke-opacity="0.75"/>
<line x1="291.60" y1="453.10" x2="291.60" y2="462.00" stroke="#0000ff" stroke-width="0.8" stroke-opacity="0.75"/>
<line x1="289.70" y1="453.10" x2="293.50" y2="453.10" stroke="#0000ff" stroke-width="0.8" stroke-opacity="0.75"/>
<line x1="289.70" y1="462.00" x2="293.50" y2="462.00" stroke="#0000ff" stroke-width="0.8" stroke-opacity="0.75"/>
<line x1="299.10" y1="440.90" x2="299.10" y2="450.10" stroke="#0000ff" stroke-width="0.8" stroke-opacity="0.75"/>
<line x1="297.20" y1="440.90" x2="301.00" y2="440.90" stroke="#0000ff" stroke-width="0.8" stroke-opacity="0.75"/>
<line x1="297.20" y1="450.10" x2="301.00" y2="450.10" stroke="#0000ff" stroke-width="0.8" stroke-opacity="0.75"/>
<line x1="299.30" y1="511.80" x2="299.30" y2="532.00" stroke="#0000ff" stroke-width="0.8" stroke-opacity="0.75"/>
<line x1="297.40" y1="511.80" x2="301.20" y2="511.80" stroke="#0000ff" stroke-width="0.8" stroke-opacity="0.75"/>
<line x1="297.40" y1="532.00" x2="301.20" y2="532.00" stroke="#0000ff" stroke-width="0.8" stroke-opacity="0.75"/>
<line x1="322.10" y1="419.60" x2="322.10" y2="431.30" stroke="#0000ff" stroke-width="0.8" stroke-opacity="0.75"/>
<line x1="320.20" y1="419.60" x2="324.00" y2="419.60" stroke="#0000ff" stroke-width="0.8" stroke-opacity="0.75"/>
<line x1="320.20" y1="431.30" x2="324.00" y2="431.30" stroke="#0000ff" stroke-width="0.8" stroke-opacity="0.75"/>
<line x1="341.20" y1="451.90" x2="341.20" y2="466.20" stroke="#0000ff" stroke-width="0.8" stroke-opacity="0.75"/>
<line x1="339.30" y1="451.90" x2="343.10" y2="451.90" stroke="#0000ff" stroke-width="0.8" stroke-opacity="0.75"/>
<line x1="339.30" y1="466.20" x2="343.10" y2="466.20" stroke="#0000ff" stroke-width="0.8" stroke-opacity="0.75"/>
<line x1="341.20" y1="460.00" x2="341.20" y2="473.20" stroke="#0000ff" stroke-width="0.8" stroke-opacity="0.75"/>
<line x1="339.30" y1="460.00" x2="343.10" y2="460.00" stroke="#0000ff" stroke-width="0.8" stroke-opacity="0.75"/>
<line x1="339.30" y1="473.20" x2="343.10" y2="473.20" stroke="#0000ff" stroke-width="0.8" stroke-opacity="0.75"/>
<circle cx="51.40" cy="398.60" r="4.20" fill="#0000ff"/>
<circle cx="103.30" cy="405.10" r="4.20" fill="#0000ff"/>
<circle cx="103.30" cy="414.60" r="4.20" fill="#0000ff"/>
<circle cx="242.80" cy="422.40" r="4.20" fill="#0000ff"/>
<circle cx="242.80" cy="433.90" r="4.20" fill="#0000ff"/>
<circle cx="242.90" cy="511.60" r="4.20" fill="#0000ff"/>
<circle cx="291.60" cy="457.50" r="4.20" fill="#0000ff"/>
<circle cx="299.10" cy="445.40" r="4.20" fill="#0000ff"/>
<circle cx="299.30" cy="521.90" r="4.20" fill="#0000ff"/>
<circle cx="322.10" cy="425.40" r="4.20" fill="#0000ff"/>
<circle cx="341.20" cy="460.00" r="4.20" fill="#0000ff"/>
<circle cx="341.20" cy="466.20" r="4.20" fill="#0000ff"/>
<rect x="37.30" y="383.50" width="318.20" height="155.60" fill="none" stroke="#8c8c8c" stroke-width="1.15"/>
</g></svg></body></html>
